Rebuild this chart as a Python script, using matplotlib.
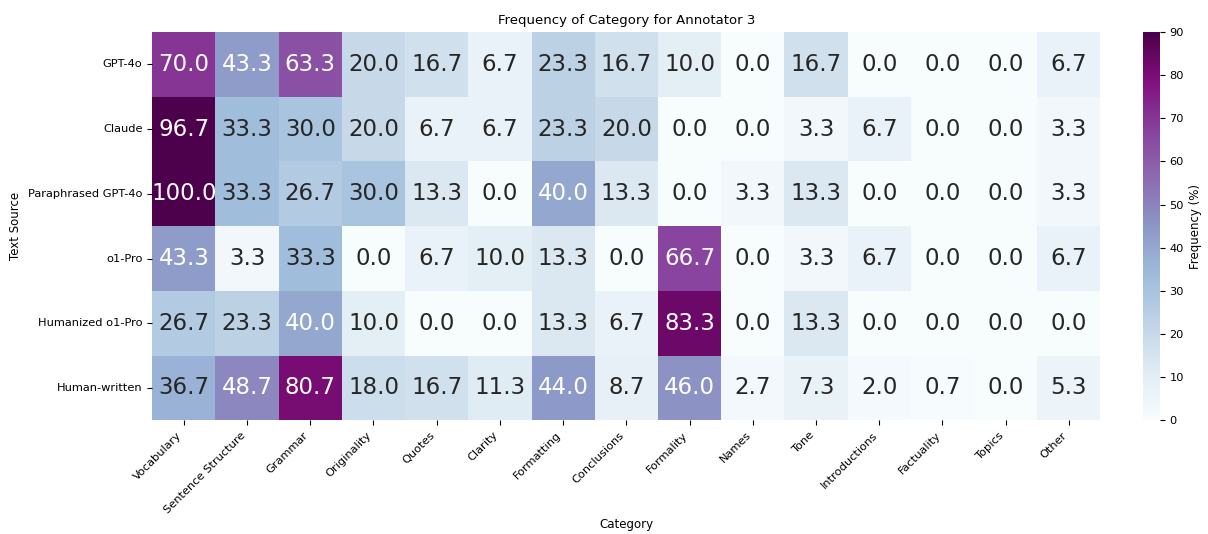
import numpy as np
import pandas as pd
import matplotlib
matplotlib.use("Agg")
import matplotlib.pyplot as plt
import seaborn as sns

# -------------------------------
# Data
# -------------------------------
sources = ["GPT-4o", "Claude", "Paraphrased GPT-4o", "o1-Pro", "Humanized o1-Pro", "Human-written"]
categories = ["Vocabulary", "Sentence Structure", "Grammar", "Originality", "Quotes", "Clarity",
              "Formatting", "Conclusions", "Formality", "Names", "Tone", "Introductions",
              "Factuality", "Topics", "Other"]

gpt4o = [70.0, 43.3, 63.3, 20.0, 16.7, 6.7, 23.3, 16.7, 10.0, 0.0, 16.7, 0.0, 0.0, 0.0, 6.7]
claude = [96.7, 33.3, 30.0, 20.0, 6.7, 6.7, 23.3, 20.0, 0.0, 0.0, 3.3, 6.7, 0.0, 0.0, 3.3]
para_gpt4o = [100.0, 33.3, 26.7, 30.0, 13.3, 0.0, 40.0, 13.3, 0.0, 3.3, 13.3, 0.0, 0.0, 0.0, 3.3]
o1pro = [43.3, 3.3, 33.3, 0.0, 6.7, 10.0, 13.3, 0.0, 66.7, 0.0, 3.3, 6.7, 0.0, 0.0, 6.7]
human_o1pro = [26.7, 23.3, 40.0, 10.0, 0.0, 0.0, 13.3, 6.7, 83.3, 0.0, 13.3, 0.0, 0.0, 0.0, 0.0]
human = [36.7, 48.7, 80.7, 18.0, 16.7, 11.3, 44.0, 8.7, 46.0, 2.7, 7.3, 2.0, 0.7, 0.0, 5.3]

df = pd.DataFrame([gpt4o, claude, para_gpt4o, o1pro, human_o1pro, human],
                  index=sources, columns=categories)

# -------------------------------
# Heatmap
# -------------------------------
fig = plt.figure(figsize=(12.08, 5.34), dpi=100)
ax = fig.add_axes([0.126, 0.213, 0.785, 0.727])
cax = fig.add_axes([0.946, 0.213, 0.014, 0.727])

sns.heatmap(df, ax=ax, cbar_ax=cax, cmap="BuPu", vmin=0, vmax=90,
            annot=True, fmt=".1f", annot_kws={"size": 16.5},
            cbar_kws={"label": "Frequency (%)"})

ax.set_title("Frequency of Category for Annotator 3", fontsize=9.5)
ax.set_xlabel("Category", fontsize=8.5, labelpad=2)
ax.set_ylabel("Text Source", fontsize=8.5, labelpad=4)
ax.set_xticklabels(ax.get_xticklabels(), rotation=45, ha="right", fontsize=8.2)
ax.set_yticklabels(ax.get_yticklabels(), rotation=0, fontsize=8.2)
cax.tick_params(labelsize=8.2)
cax.set_yticks(range(0, 91, 10))
cax.yaxis.label.set_size(8.5)

fig.savefig("out.png", dpi=100)
